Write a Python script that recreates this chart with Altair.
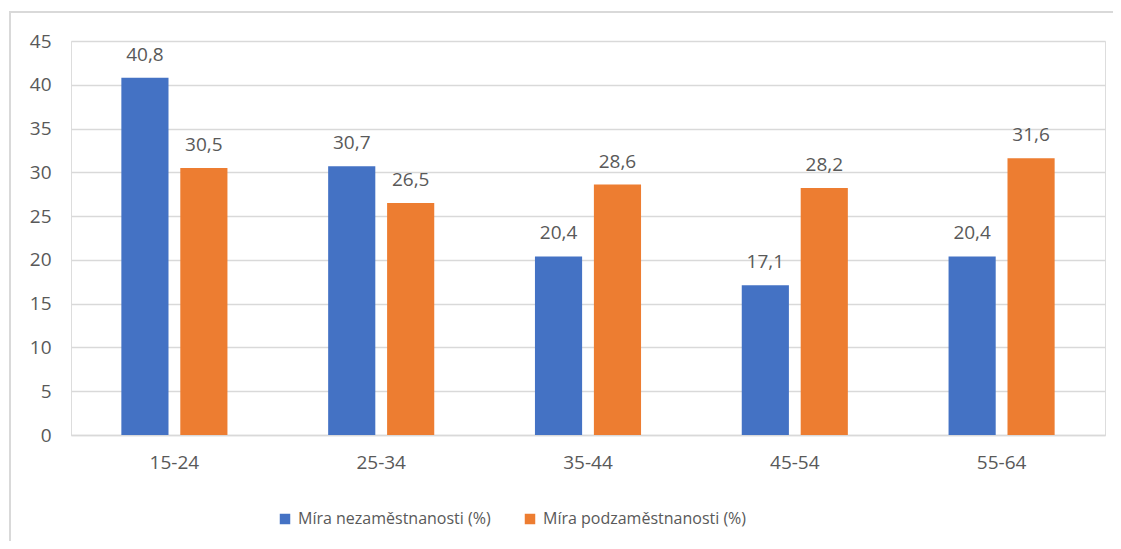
import altair as alt
import pandas as pd

categories = ["15-24", "25-34", "35-44", "45-54", "55-64"]
series_names = ["Míra nezaměstnanosti (%)", "Míra podzaměstnanosti (%)"]
unemployment = [40.8, 30.7, 20.4, 17.1, 20.4]
underemployment = [30.5, 26.5, 28.6, 28.2, 31.6]
colors = ["#4472C4", "#ED7D31"]

rows = []
for c, a, b in zip(categories, unemployment, underemployment):
    rows.append({"cat": c, "series": series_names[0], "value": a, "label": f"{a:.1f}".replace(".", ",")})
    rows.append({"cat": c, "series": series_names[1], "value": b, "label": f"{b:.1f}".replace(".", ",")})
df = pd.DataFrame(rows)

FONT = "Open Sans"
TXT = "#595959"
FS = 19

x_enc = alt.X("cat:N", sort=categories, title=None,
              scale=alt.Scale(paddingInner=0.487, paddingOuter=0.2435),
              axis=alt.Axis(labelAngle=0, ticks=False, domainColor="#d9d9d9", domainWidth=1.5,
                            labelFontSize=FS, labelFont=FONT, labelColor=TXT, labelPadding=18))
xo_enc = alt.XOffset("series:N", sort=series_names,
                     scale=alt.Scale(paddingInner=0.2, paddingOuter=0))
y_enc = alt.Y("value:Q", title=None,
              scale=alt.Scale(domain=[0, 45]),
              axis=alt.Axis(values=list(range(0, 50, 5)), ticks=False, domain=False,
                            gridColor="#d9d9d9", gridWidth=1.5,
                            labelFontSize=FS, labelFont=FONT, labelColor=TXT, labelPadding=20))

base = alt.Chart(df)

border = base.mark_rect(fill=None, stroke="#d9d9d9", strokeWidth=1.5).encode(
    x=alt.value(-61), x2=alt.value(1100), y=alt.value(-29), y2=alt.value(560)
)

bars = base.mark_bar().encode(
    x=x_enc, xOffset=xo_enc, y=y_enc,
    color=alt.Color("series:N", sort=series_names, title=None,
                    scale=alt.Scale(domain=series_names, range=colors),
                    legend=alt.Legend(orient="none", legendX=206, legendY=470, direction="horizontal",
                                      symbolType="square", symbolSize=110, symbolStrokeWidth=0,
                                      labelFontSize=16, labelFont=FONT, labelColor=TXT, labelLimit=400,
                                      columnPadding=31, symbolOffset=0, labelOffset=5))
)

text = base.mark_text(baseline="middle", dy=-23, fontSize=FS, font=FONT, color=TXT).encode(
    x=x_enc, xOffset=xo_enc, y=y_enc, text="label:N"
)

chart = alt.layer(border, bars, text).properties(
    width=1034, height=394,
    autosize="none",
    padding={"left": 63, "top": 33, "right": 8, "bottom": 106}
).configure_view(stroke=None).configure(background="white")

chart.save("out.html", embed_options={"renderer": "svg", "actions": False})
